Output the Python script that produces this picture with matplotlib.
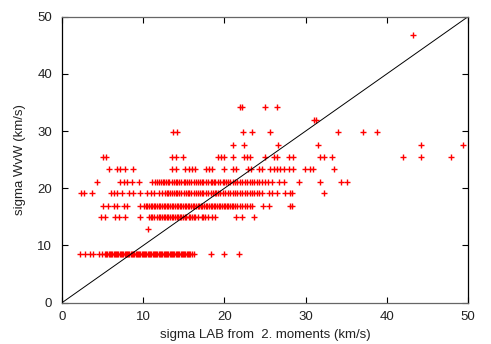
import numpy as np
import matplotlib
matplotlib.use('Agg')
import matplotlib.pyplot as plt

# sigma levels (km/s) from WvW and the LAB sigmas found at each level
y_levels = [8.5, 12.8, 15.0, 16.9, 19.2, 21.15, 23.4, 25.5, 27.65, 29.8, 31.9, 34.2, 46.8]

x_at_8_5 = [2.2, 2.8, 3.5, 3.8, 4.6, 4.9, 5.3, 5.45, 5.6, 5.75, 5.9, 6.05, 6.2, 6.35,
            6.5, 6.65, 6.8, 6.95, 7.1, 7.25, 7.4, 7.55, 7.7, 7.85, 8.0, 8.15, 8.3,
            8.45, 8.6, 8.75, 8.9, 9.05, 9.2, 9.35, 9.5, 9.65, 9.8, 9.95, 10.1, 10.25,
            10.4, 10.55, 10.7, 10.85, 11.0, 11.15, 11.3, 11.45, 11.6, 11.75, 11.9,
            12.05, 12.2, 12.35, 12.5, 12.65, 12.8, 12.95, 13.1, 13.25, 13.4, 13.55,
            13.7, 13.85, 14.0, 14.15, 14.3, 14.45, 14.6, 14.75, 14.9, 15.05, 15.2,
            15.35, 15.5, 15.65, 15.8, 15.95, 16.2, 18.4, 20.0, 21.8]
x_at_12_8 = [10.6]
x_at_15_0 = [4.8, 5.3, 6.5, 7.0, 7.7, 9.6, 10.7, 10.9, 11.1, 11.3, 11.7, 11.9, 12.1,
             12.3, 12.5, 12.7, 12.9, 13.1, 13.3, 13.5, 13.7, 13.9, 14.1, 14.3, 14.5,
             14.7, 14.9, 15.1, 15.3, 15.6, 15.8, 16.0, 16.2, 16.4, 16.8, 17.2, 17.4,
             17.6, 18.0, 18.5, 18.9, 21.4, 22.2, 23.6]
x_at_16_9 = [5.1, 5.7, 6.4, 6.8, 7.6, 8.0, 9.6, 10.1, 10.3, 10.5, 10.7, 10.9, 11.1,
             11.3, 11.5, 11.7, 11.9, 12.1, 12.3, 12.5, 12.7, 12.9, 13.1, 13.3, 13.5,
             13.7, 13.9, 14.1, 14.3, 14.5, 14.7, 14.9, 15.1, 15.3, 15.5, 15.7, 15.9,
             16.1, 16.3, 16.5, 16.7, 16.9, 17.1, 17.3, 17.5, 17.7, 17.9, 18.1, 18.3,
             18.5, 18.7, 18.9, 19.1, 19.3, 19.5, 19.7, 19.9, 20.1, 20.3, 20.5, 20.7,
             20.9, 21.1, 21.3, 21.6, 21.9, 22.2, 22.5, 22.8, 23.1, 23.4, 24.8, 25.5,
             28.1, 28.3]
x_at_19_2 = [2.3, 2.7, 3.7, 6.0, 6.4, 6.8, 7.4, 8.2, 8.8, 9.6, 10.5, 10.9, 11.3,
             11.9, 12.3, 12.7, 12.9, 13.1, 13.3, 13.5, 13.8, 14.0, 14.2, 14.4, 14.7,
             15.0, 15.3, 15.5, 15.7, 15.9, 16.2, 16.5, 16.8, 17.0, 17.2, 17.4, 17.7,
             18.0, 18.3, 18.6, 18.8, 19.0, 19.2, 19.5, 19.8, 20.1, 20.4, 20.7, 21.0,
             21.3, 21.6, 21.9, 22.2, 22.5, 22.8, 23.1, 23.4, 23.7, 24.0, 24.3, 24.6,
             25.5, 25.9, 26.5, 27.5, 28.1, 28.3, 32.3]
x_at_21_15 = [4.3, 7.2, 7.6, 8.0, 8.6, 9.5, 11.1, 11.4, 11.7, 12.0, 12.2, 12.4, 12.6,
              12.8, 13.0, 13.2, 13.5, 13.8, 14.0, 14.2, 14.4, 14.7, 15.0, 15.2, 15.4,
              15.6, 15.9, 16.2, 16.5, 16.8, 17.0, 17.2, 17.4, 17.7, 18.0, 18.3, 18.5,
              18.7, 18.9, 19.2, 19.5, 19.8, 20.0, 20.2, 20.4, 20.7, 21.0, 21.3, 21.6,
              21.9, 22.2, 22.5, 22.8, 23.1, 23.4, 23.7, 24.0, 24.3, 24.6, 25.0, 25.4,
              25.9, 26.7, 27.3, 29.2, 31.8, 34.4, 35.1]
x_at_23_4 = [5.8, 6.8, 7.2, 7.7, 8.8, 13.6, 14.0, 15.2, 15.6, 16.0, 16.4, 17.7, 18.1,
             18.5, 19.9, 21.1, 21.4, 22.9, 23.3, 24.2, 24.6, 25.6, 26.1, 26.5, 26.8,
             27.3, 27.9, 28.5, 29.9, 30.5, 30.9, 33.5]
x_at_25_5 = [5.0, 5.4, 13.6, 14.0, 14.9, 19.2, 19.6, 20.0, 21.1, 22.4, 22.8, 23.2,
             25.0, 26.1, 26.5, 27.9, 28.5, 31.8, 32.3, 33.2, 42.0, 44.2, 47.9]
x_at_27_65 = [21.1, 22.4, 26.6, 31.5, 44.2, 49.4]
x_at_29_8 = [13.7, 14.2, 22.3, 23.4, 25.6, 34.0, 37.1, 38.8]
x_at_31_9 = [31.0, 31.3]
x_at_34_2 = [21.9, 22.2, 25.0, 26.5]
x_at_46_8 = [43.2]

rows = [x_at_8_5, x_at_12_8, x_at_15_0, x_at_16_9, x_at_19_2, x_at_21_15, x_at_23_4,
        x_at_25_5, x_at_27_65, x_at_29_8, x_at_31_9, x_at_34_2, x_at_46_8]

x = np.concatenate([np.array(r, dtype=float) for r in rows])
y = np.concatenate([np.full(len(r), lv) for r, lv in zip(rows, y_levels)])

plt.rcParams['font.family'] = ['Liberation Sans', 'DejaVu Sans']
plt.rcParams['font.size'] = 9.5

fig = plt.figure(figsize=(4.91, 3.44), dpi=100)
ax = fig.add_axes([0.1263, 0.1201, 0.8269, 0.8314])

ax.plot(x, y, linestyle='none', marker='+', color='#ff0000',
        markersize=5, markeredgewidth=1.0)
ax.plot([0, 50], [0, 50], color='black', linewidth=0.7)

ax.set_xlim(0, 50)
ax.set_ylim(0, 50)
ax.set_xticks([0, 10, 20, 30, 40, 50])
ax.set_yticks([0, 10, 20, 30, 40, 50])
ax.tick_params(direction='in', length=4, width=0.8, top=True, right=True,
               colors='black', labelcolor='#222222')
ax.tick_params(axis='x', pad=6)
ax.tick_params(axis='y', pad=7)
for side in ['left', 'right']:
    ax.spines[side].set_color('black')
for side in ['top', 'bottom']:
    ax.spines[side].set_color('#666666')
for s in ax.spines.values():
    s.set_linewidth(0.9)

ax.set_xlabel('sigma LAB from  2. moments (km/s)', color='#222222', labelpad=4)
ax.set_ylabel('sigma WvW (km/s)', color='#222222', labelpad=8)

fig.savefig('out.png', dpi=100)
